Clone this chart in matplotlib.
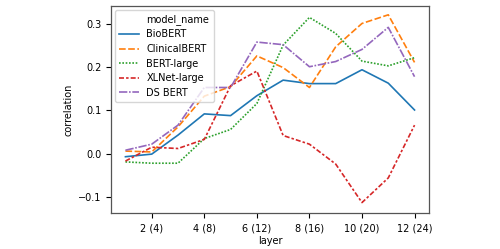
#
# Layer-wise correlation of several language models.
#

import matplotlib
matplotlib.use('Agg')
import matplotlib.pyplot as plt
from matplotlib.lines import Line2D


#######################################################################


layers = [1, 2, 3, 4, 5, 6, 7, 8, 9, 10, 11, 12]
tick_layers = [2, 4, 6, 8, 10, 12]
tick_labels = ['2 (4)', '4 (8)', '6 (12)', '8 (16)', '10 (20)', '12 (24)']

model_names = ['BioBERT', 'ClinicalBERT', 'BERT-large', 'XLNet-large',
               'DS BERT']

biobert = [-0.007, -0.001, 0.043, 0.092, 0.088, 0.134,
           0.170, 0.162, 0.162, 0.194, 0.163, 0.101]
clinicalbert = [0.006, 0.004, 0.062, 0.133, 0.155, 0.226,
                0.199, 0.153, 0.247, 0.301, 0.321, 0.211]
bert_large = [-0.019, -0.022, -0.022, 0.035, 0.056, 0.116,
              0.251, 0.315, 0.278, 0.214, 0.203, 0.222]
xlnet_large = [-0.017, 0.015, 0.012, 0.033, 0.157, 0.191,
               0.042, 0.022, -0.024, -0.113, -0.056, 0.066]
ds_bert = [0.008, 0.022, 0.066, 0.153, 0.153, 0.258,
           0.252, 0.201, 0.213, 0.241, 0.292, 0.178]

series = [biobert, clinicalbert, bert_large, xlnet_large, ds_bert]


#######################################################################


colours = ['#1f77b4', '#ff7f0e', '#2ca02c', '#d62728', '#9467bd']
dashes = [(), (4, 1.5), (1, 1), (3, 1.25, 1.5, 1.25), (5, 1, 1, 1)]

plt.rcParams['font.family'] = ['DejaVu Sans']
plt.rcParams['font.size'] = 7

fig = plt.figure(figsize=(5.0, 2.49), dpi=100)
ax = fig.add_axes([0.222, 0.143, 0.636, 0.834])

# Seaborn-style legend: the hue name sits as an entry with no handle.
handles = [Line2D([], [], linestyle='none')]
labels = ['model_name']

for values, name, c, d in zip(series, model_names, colours, dashes):
    line, = ax.plot(layers, values, color=c, linewidth=1.2, label=name)
    if d:
        line.set_dashes(d)
    handles.append(line)
    labels.append(name)

ax.set_xlim(0.45, 12.55)
ax.set_ylim(-0.138, 0.342)
ax.set_xticks(tick_layers)
ax.set_xticklabels(tick_labels)
ax.set_yticks([-0.1, 0.0, 0.1, 0.2, 0.3])
ax.set_xlabel('layer', labelpad=2)
ax.set_ylabel('correlation', labelpad=3)

for s in ax.spines.values():
    s.set_color('#555555')
    s.set_linewidth(0.9)

ax.legend(handles, labels, loc='upper left', fontsize=7, handlelength=2.0,
          borderaxespad=0.4, labelspacing=0.47, borderpad=0.45)

plt.savefig('out.png', dpi=100)
